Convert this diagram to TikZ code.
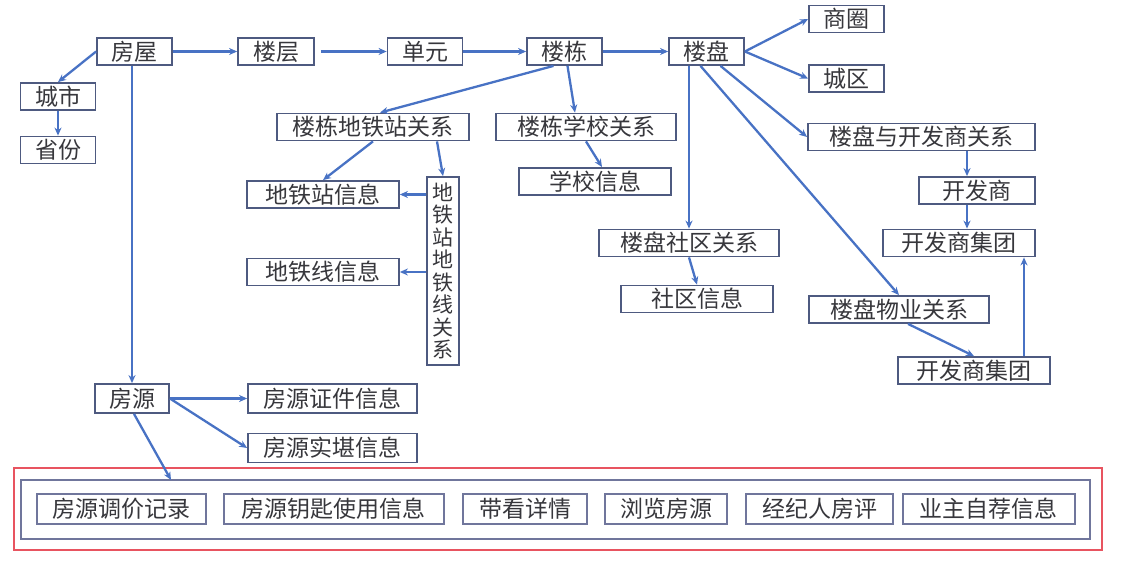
\documentclass[tikz,border=0pt]{standalone}
\usepackage{fontspec}
\setmainfont{Noto Sans CJK SC}
\usepackage{tikz}
\usetikzlibrary{arrows.meta,calc}
\usepackage{xcolor}
\definecolor{linkblue}{RGB}{72,114,196}
\definecolor{boxedge}{RGB}{78,90,128}
\definecolor{groupedge}{RGB}{112,118,156}
\definecolor{alertred}{RGB}{232,84,96}
\definecolor{textgray}{RGB}{55,55,60}

\begin{document}
\begin{tikzpicture}[x=1pt,y=-1pt,
  every node/.style={font=\fontsize{23}{26}\selectfont,text=textgray},
  box/.style={draw=boxedge,line width=1.8pt,inner sep=0pt,minimum height=27pt},
  arr/.style={-{Stealth[length=8pt,width=7pt]},draw=linkblue,line width=2.3pt}]
\useasboundingbox (0,0) rectangle (1125,561);
\node[box,minimum width=75pt] (wu) at (134.5,51.5) {房屋};
\node[box,minimum width=76pt] (ceng) at (276,51.5) {楼层};
\node[box,minimum width=75pt] (dy) at (425,51.5) {单元};
\node[box,minimum width=75pt] (ld) at (564.5,51.5) {楼栋};
\node[box,minimum width=75pt] (lp) at (706.5,51.5) {楼盘};
\node[box,minimum width=75pt] (sq) at (846.5,19) {商圈};
\node[box,minimum width=75pt] (cq) at (846.5,78.5) {城区};
\node[box,minimum width=227pt] (lpkfs) at (921.5,137) {楼盘与开发商关系};
\node[box,minimum width=116pt] (kfs) at (977,190.5) {开发商};
\node[box,minimum width=152pt] (jt1) at (959,243) {开发商集团};
\node[box,minimum width=180pt] (wy) at (899,309.5) {楼盘物业关系};
\node[box,minimum width=152pt] (jt2) at (974,370.5) {开发商集团};
\node[box,minimum width=180pt] (sqgx) at (689,243) {楼盘社区关系};
\node[box,minimum width=152pt] (sqxx) at (697,299) {社区信息};
\node[box,minimum width=180pt] (xxgx) at (586,127) {楼栋学校关系};
\node[box,minimum width=152pt] (xx) at (595,181.5) {学校信息};
\node[box,minimum width=192pt] (dtgx) at (373,127) {楼栋地铁站关系};
\node[box,minimum width=152pt] (dtz) at (323,194.5) {地铁站信息};
\node[box,minimum width=152pt] (dtx) at (323,272) {地铁线信息};
\node[box,minimum width=32pt,minimum height=188pt,align=center,
  font=\fontsize{21}{22.5}\selectfont] (dtzx) at (443,271)
  {地\\铁\\站\\地\\铁\\线\\关\\系};
\node[box,minimum width=75pt] (cs) at (58,96.5) {城市};
\node[box,minimum width=75pt] (sf) at (58,150) {省份};
\node[box,minimum width=74pt,minimum height=29pt] (fy) at (132,398.5) {房源};
\node[box,minimum width=169pt,minimum height=29pt] (zj) at (332.5,398.5) {房源证件信息};
\node[box,minimum width=169pt,minimum height=29pt] (sk) at (332.5,448) {房源实堪信息};
\node[draw=alertred,line width=2pt,minimum width=1088pt,minimum height=82pt] (alert) at (558,509) {};
\node[draw=groupedge,line width=1.8pt,minimum width=1069pt,minimum height=59pt] (group) at (555.5,509.5) {};
\node[box,draw=groupedge,minimum width=169pt,minimum height=30pt] (b1) at (121.5,509) {房源调价记录};
\node[box,draw=groupedge,minimum width=220pt,minimum height=30pt] (b2) at (333.6,509) {房源钥匙使用信息};
\node[box,draw=groupedge,minimum width=124pt,minimum height=30pt] (b3) at (525,509) {带看详情};
\node[box,draw=groupedge,minimum width=122pt,minimum height=30pt] (b4) at (666,509) {浏览房源};
\node[box,draw=groupedge,minimum width=147pt,minimum height=30pt] (b5) at (819.5,509) {经纪人房评};
\node[box,draw=groupedge,minimum width=172pt,minimum height=30pt] (b6) at (988.7,509) {业主自荐信息};
\coordinate (groupin) at (171,480);
\draw[arr] (wu.east) -- (ceng.west);
\draw[arr,shorten <=6pt] (ceng.east) -- (dy.west);
\draw[arr] (dy.east) -- (ld.west);
\draw[arr] (ld.east) -- (lp.west);
\draw[arr] (lp.east) -- (sq.west);
\draw[arr] (lp.east) -- (cq.west);
\draw[arr] ([xshift=14pt]lp.south) -- (lpkfs.west);
\draw[arr] ([xshift=-6pt]lp.south) -- (wy.north);
\draw[arr] (lp.south -| sqgx.north) -- (sqgx.north);
\draw[arr] (sqgx.south) -- (sqxx.north);
\draw[arr] ([xshift=-10pt]kfs.north |- lpkfs.south) -- ([xshift=-10pt]kfs.north);
\draw[arr] ([xshift=-10pt]kfs.south) -- ([xshift=-10pt]kfs.south |- jt1.north);
\draw[arr] ([xshift=9pt]wy.south) -- (jt2.north);
\draw[arr] ([xshift=50pt]jt2.north) -- ([xshift=50pt]jt2.north |- jt1.south);
\draw[arr] ([xshift=-11pt]ld.south) -- ([xshift=7pt]dtgx.north);
\draw[arr] ([xshift=3pt]ld.south) -- ([xshift=-11pt]xxgx.north);
\draw[arr] (xxgx.south) -- ([xshift=7pt]xx.north);
\draw[arr] (dtgx.south) -- (dtz.north);
\draw[arr] ([xshift=64pt]dtgx.south) -- (dtzx.north);
\draw[arr] (dtzx.west |- dtz.east) -- (dtz.east);
\draw[arr] (dtzx.west |- dtx.east) -- (dtx.east);
\draw[arr] (wu.west) -- (cs.north);
\draw[arr] (cs.south) -- (sf.north);
\draw[arr] (wu.south -| fy.north) -- (fy.north);
\draw[arr] (fy.east) -- (zj.west);
\draw[arr] (fy.east) -- (sk.west);
\draw[arr] ([xshift=2pt]fy.south) -- (groupin);
\end{tikzpicture}
\end{document}
